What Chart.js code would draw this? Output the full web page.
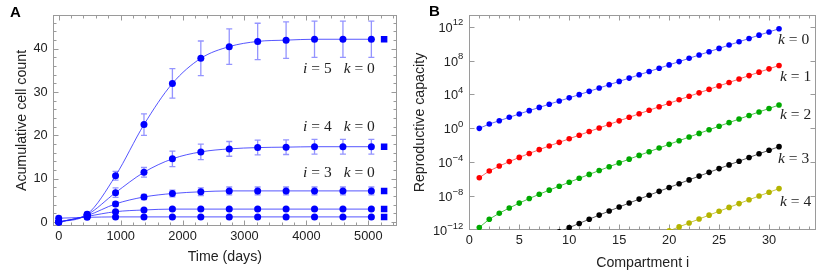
<!DOCTYPE html>
<html><head><meta charset="utf-8">
<script src="https://cdn.jsdelivr.net/npm/chart.js@4.4.1/dist/chart.umd.min.js"></script>
<style>
html,body{margin:0;padding:0;background:#fff;}
#wrap{position:relative;width:821px;height:274px;overflow:hidden;}
.panel{position:absolute;top:0;height:274px;}
#pa{left:0;width:410px;}
#pb{left:410px;width:411px;}
.tag{position:absolute;font:bold 15px "Liberation Sans",Arial,sans-serif;line-height:15px;color:#000;}
</style></head><body>
<div id="wrap">
<div class="panel" id="pa"><canvas id="ca" width="410" height="274"></canvas></div>
<div class="panel" id="pb"><canvas id="cb" width="411" height="274"></canvas></div>
<div class="tag" style="left:10px;top:4px">A</div>
<div class="tag" style="left:429px;top:3px">B</div>
</div>
<script>
// ---------- Panel A data ----------
const days = [0, 459, 918, 1377, 1836, 2295, 2754, 3213, 3672, 4131, 4590, 5049];
const countI5 = [0, 1.8, 10.7, 22.5, 32.0, 37.8, 40.5, 41.7, 42.0, 42.2, 42.2, 42.2];
const errI5   = [0, 0.5, 1.0, 2.5, 3.4, 4.0, 4.1, 4.2, 4.2, 4.2, 4.2, 4.2];
const countI4 = [0, 1.7, 6.8, 11.5, 14.6, 16.2, 16.9, 17.2, 17.3, 17.4, 17.4, 17.4];
const errI4   = [0, 0.4, 1.1, 1.1, 1.8, 1.8, 1.7, 1.7, 1.7, 1.7, 1.7, 1.7];
const countI3 = [0, 1.5, 4.2, 5.8, 6.6, 7.0, 7.2, 7.2, 7.2, 7.2, 7.2, 7.2];
const errI3   = [0, 0.3, 0.5, 0.6, 0.8, 0.9, 0.9, 0.9, 0.9, 0.9, 0.9, 0.9];
const countI2 = [0, 1.3, 2.4, 2.8, 3.0, 3.0, 3.0, 3.0, 3.0, 3.0, 3.0, 3.0];
const errI2   = [0, 0.2, 0.3, 0.3, 0.3, 0.3, 0.3, 0.3, 0.3, 0.3, 0.3, 0.3];
const countI1 = [0.9, 1.1, 1.2, 1.2, 1.2, 1.2, 1.2, 1.2, 1.2, 1.2, 1.2, 1.2];
const errI1   = [0.5, 0.2, 0.2, 0.2, 0.2, 0.2, 0.2, 0.2, 0.2, 0.2, 0.2, 0.2];
const plateauDay = [5255, 5255, 5255, 5255, 5255];
const plateauCount = [42.2, 17.4, 7.2, 3.0, 1.2];
const timeTicks = [0, 1000, 2000, 3000, 4000, 5000];
const countTicks = [0, 10, 20, 30, 40];

// ---------- Panel B data ----------
const compartments = [1,2,3,4,5,6,7,8,9,10,11,12,13,14,15,16,17,18,19,20,21,22,23,24,25,26,27,28,29,30,31];
const capK0 = [1.0, 3.2, 7.9, 20, 50, 123, 295, 710, 1.66e3, 4.0e3, 9.5e3, 2.34e4, 5.75e4, 1.41e5, 3.47e5, 8.5e5, 2.09e6, 5.13e6, 1.26e7, 3.09e7, 7.59e7, 1.86e8, 4.57e8, 1.12e9, 2.75e9, 6.76e9, 1.66e10, 4.07e10, 1.0e11, 2.4e11, 5.75e11];
const capK1 = [1.48e-6, 9.3e-6, 3.52e-5, 1.18e-4, 3.71e-4, 1.09e-3, 3.05e-3, 8.4e-3, 2.21e-2, 5.9e-2, 1.55e-1, 4.16e-1, 1.11, 2.92, 7.69, 20.1, 52.5, 136, 354, 914, 2.36e3, 6.05e3, 1.56e4, 3.98e4, 1.02e5, 2.6e5, 6.62e5, 1.69e6, 4.29e6, 1.06e7, 2.64e7];
const capK2 = [2.0e-12, 1.89e-11, 9.5e-11, 3.98e-10, 1.5e-9, 5.15e-9, 1.65e-8, 5.08e-8, 1.49e-7, 4.37e-7, 1.26e-6, 3.65e-6, 1.04e-5, 2.96e-5, 8.3e-5, 2.31e-4, 6.38e-4, 1.75e-3, 4.78e-3, 1.29e-2, 3.5e-2, 9.4e-2, 2.52e-1, 6.71e-1, 1.79, 4.73, 12.5, 33.0, 86.7, 222, 569];
const compK3 = [9,10,11,12,13,14,15,16,17,18,19,20,21,22,23,24,25,26,27,28,29,30,31];
const capK3 = [5.98e-13, 1.91e-12, 5.97e-12, 1.87e-11, 5.73e-11, 1.73e-10, 5.16e-10, 1.52e-9, 4.43e-9, 1.28e-8, 3.66e-8, 1.04e-7, 2.94e-7, 8.24e-7, 2.3e-6, 6.38e-6, 1.76e-5, 4.84e-5, 1.33e-4, 3.62e-4, 9.84e-4, 2.6e-3, 6.87e-3];
const compK4 = [20,21,22,23,24,25,26,27,28,29,30,31];
const capK4 = [7.89e-13, 2.32e-12, 6.79e-12, 1.97e-11, 5.68e-11, 1.63e-10, 4.63e-10, 1.31e-9, 3.7e-9, 1.04e-8, 2.83e-8, 7.69e-8];
const compTicks = [0, 5, 10, 15, 20, 25, 30];
const capTicks = [1e-12, 1e-8, 1e-4, 1, 1e4, 1e8, 1e12];

// ---------- helpers ----------
const SANS = '"Liberation Sans", Arial, sans-serif';
Chart.defaults.font.family = SANS;
Chart.defaults.color = '#222';
Chart.defaults.animation = false;
const TICK_PX = 12.8, TITLE_PX = 14.2;

function pts(xs, ys){ return ys.map((v,i)=>({x:xs[i], y:v})); }
function range(a,b,s){ const r=[]; for(let v=a; v<=b+1e-9; v+=s) r.push(v); return r; }

const framePlugin = {
  id: 'frameTicks',
  beforeDatasetsDraw(chart, args, o){
    const {ctx, chartArea:a, scales:{x, y}} = chart;
    ctx.save();
    chart.data.datasets.forEach((ds) => {
      if (!ds.errorBars) return;
      ctx.strokeStyle = o.errColor; ctx.lineWidth = 1.3;
      ds.data.forEach((p, j) => {
        const e = ds.errorBars[j]; if (!e) return;
        const px = x.getPixelForValue(p.x);
        const y1 = y.getPixelForValue(p.y + e), y2 = y.getPixelForValue(p.y - e);
        ctx.beginPath();
        ctx.moveTo(px, y1); ctx.lineTo(px, y2);
        ctx.moveTo(px-3, y1); ctx.lineTo(px+3, y1);
        ctx.moveTo(px-3, y2); ctx.lineTo(px+3, y2);
        ctx.stroke();
      });
    });
    ctx.strokeStyle = o.color; ctx.lineWidth = 1;
    const L = Math.round(a.left)+0.5, R = Math.round(a.right)-0.5, T = Math.round(a.top)+0.5, B = Math.round(a.bottom)-0.5;
    ctx.strokeRect(L, T, R-L, B-T);
    ctx.beginPath();
    const tickX = (vals, len) => vals.forEach(v => {
      const px = Math.round(x.getPixelForValue(v))+0.5;
      if (px < L-0.1 || px > R+0.1) return;
      ctx.moveTo(px, B); ctx.lineTo(px, B-len);
      ctx.moveTo(px, T); ctx.lineTo(px, T+len);
    });
    const tickY = (vals, len) => vals.forEach(v => {
      const py = Math.round(y.getPixelForValue(v))+0.5;
      if (py < T-0.1 || py > B+0.1) return;
      ctx.moveTo(L, py); ctx.lineTo(L+len, py);
      ctx.moveTo(R, py); ctx.lineTo(R-len, py);
    });
    tickX(o.xMajor, 5); tickX(o.xMinor, 3);
    tickY(o.yMajor, 5); tickY(o.yMinor, 3);
    ctx.stroke();
    ctx.restore();
  },
  afterDatasetsDraw(chart, args, o){
    const {ctx, chartArea:a, scales:{x, y}} = chart;
    ctx.save();
    ctx.fillStyle = '#222';
    ctx.textBaseline = 'middle';
    (o.labels || []).forEach(lb => {
      let px = x.getPixelForValue(lb.x);
      const py = y.getPixelForValue(lb.y);
      lb.parts.forEach(pt => {
        if (pt.gap) { px += pt.gap; return; }
        ctx.font = (pt.it ? 'italic ' : '') + '15.5px "Liberation Serif", "Times New Roman", serif';
        ctx.fillText(pt.t, px, py);
        px += ctx.measureText(pt.t).width;
      });
    });
    // power-of-ten tick labels
    if (o.powerLabels) {
      const right = a.left - 6;
      o.powerLabels.forEach(v => {
        const e = Math.round(Math.log10(v));
        const es = (e < 0 ? '\u2212' : '') + Math.abs(e);
        const py = y.getPixelForValue(v);
        ctx.font = '9.5px ' + SANS;
        const wE = ctx.measureText(es).width;
        ctx.textAlign = 'left'; ctx.textBaseline = 'alphabetic';
        ctx.fillText(es, right - wE, py - 1.5);
        ctx.font = TICK_PX + 'px ' + SANS;
        ctx.textAlign = 'right'; ctx.textBaseline = 'middle';
        ctx.fillText('10', right - wE, py + 1.5);
      });
    }
    ctx.restore();
  }
};

function ikLabel(i, k){
  return [{t:'i', it:true}, {t:' = '+i}, {gap:12}, {t:'k', it:true}, {t:' = '+k}];
}
function kLabel(k){ return [{t:'k', it:true}, {t:' = '+k}]; }

// ---------- Chart A ----------
const blueLine = 'rgba(30,30,255,0.75)';
const seriesA = [[countI5, errI5], [countI4, errI4], [countI3, errI3], [countI2, errI2], [countI1, errI1]];
const dsA = seriesA.map(([c, e]) => ({
  type: 'line', data: pts(days, c), errorBars: e,
  borderColor: blueLine, borderWidth: 1, cubicInterpolationMode: 'monotone',
  pointRadius: 3.5, pointBackgroundColor: '#0000ff', pointBorderWidth: 0, clip: false
}));
dsA.push({
  type: 'scatter', data: pts(plateauDay, plateauCount), pointStyle: 'rect',
  pointRadius: 4.6, pointBackgroundColor: '#0000ff', pointBorderWidth: 0, showLine: false
});

new Chart(document.getElementById('ca'), {
  type: 'line',
  data: { datasets: dsA },
  options: {
    responsive: false, devicePixelRatio: 1,
    layout: { padding: { left: 0, right: 13, top: 15, bottom: 0 } },
    plugins: {
      legend: { display: false }, tooltip: { enabled: false },
      frameTicks: {
        color: '#9a9a9a', errColor: 'rgba(60,60,255,0.55)',
        xMajor: timeTicks, xMinor: range(200, 5400, 200),
        yMajor: countTicks, yMinor: range(2, 46, 2),
        labels: [
          { x: 3947, y: 35.3, parts: ikLabel(5, 0) },
          { x: 3947, y: 21.9, parts: ikLabel(4, 0) },
          { x: 3947, y: 11.3, parts: ikLabel(3, 0) }
        ]
      }
    },
    scales: {
      x: {
        type: 'linear', min: -97, max: 5463,
        afterBuildTicks: s => { s.ticks = timeTicks.map(v => ({ value: v })); },
        afterFit: s => { s.height = 48; },
        grid: { display: false, drawTicks: false }, border: { display: false },
        ticks: { padding: 3, font: { size: TICK_PX }, color: '#222', callback: v => String(v) },
        title: { display: true, text: 'Time (days)', font: { size: TITLE_PX }, color: '#222', padding: { top: 0, bottom: 8 } }
      },
      y: {
        type: 'linear', min: -0.9, max: 47.8,
        afterBuildTicks: s => { s.ticks = countTicks.map(v => ({ value: v })); },
        afterFit: s => { s.width = 52.7; },
        grid: { display: false, drawTicks: false }, border: { display: false },
        ticks: { padding: 5, font: { size: TICK_PX }, color: '#222', callback: v => String(v) },
        title: { display: true, text: 'Acumulative cell count', font: { size: TITLE_PX }, color: '#222', padding: { top: 14, bottom: 0 } }
      }
    }
  },
  plugins: [framePlugin]
});

// ---------- Chart B ----------
function dsB(xs, ys, pc, lc){
  return { data: pts(xs, ys), borderColor: lc, borderWidth: 1, pointRadius: 2.8,
           pointBackgroundColor: pc, pointBorderWidth: 0, tension: 0 };
}
new Chart(document.getElementById('cb'), {
  type: 'line',
  data: { datasets: [
    dsB(compartments, capK0, '#0000ff', 'rgba(40,40,255,0.7)'),
    dsB(compartments, capK1, '#ff0000', 'rgba(255,40,40,0.7)'),
    dsB(compartments, capK2, '#00aa00', 'rgba(0,170,0,0.7)'),
    dsB(compK3, capK3, '#000000', 'rgba(40,40,40,0.75)'),
    dsB(compK4, capK4, '#b4b400', 'rgba(180,180,0,0.75)')
  ] },
  options: {
    responsive: false, devicePixelRatio: 1,
    layout: { padding: { left: 0, right: 5, top: 15, bottom: 0 } },
    plugins: {
      legend: { display: false }, tooltip: { enabled: false },
      frameTicks: {
        color: '#9a9a9a', errColor: '#000',
        xMajor: compTicks, xMinor: range(1, 34, 1),
        yMajor: capTicks, yMinor: [],
        powerLabels: capTicks,
        labels: [
          { x: 30.9, y: 2.9e10, parts: kLabel(0) },
          { x: 31.1, y: 1.26e6, parts: kLabel(1) },
          { x: 31.1, y: 40, parts: kLabel(2) },
          { x: 30.9, y: 2.7e-4, parts: kLabel(3) },
          { x: 31.1, y: 2.3e-9, parts: kLabel(4) }
        ]
      }
    },
    scales: {
      x: {
        type: 'linear', min: 0, max: 34.7,
        afterBuildTicks: s => { s.ticks = compTicks.map(v => ({ value: v })); },
        afterFit: s => { s.height = 44; },
        grid: { display: false, drawTicks: false }, border: { display: false },
        ticks: { padding: 3, font: { size: TICK_PX }, color: '#222', callback: v => String(v) },
        title: { display: true, text: 'Compartment i', font: { size: TITLE_PX }, color: '#222', padding: { top: 0, bottom: 2 } }
      },
      y: {
        type: 'logarithmic', min: 1e-12, max: 2.4e13,
        afterBuildTicks: s => { s.ticks = capTicks.map(v => ({ value: v })); },
        afterFit: s => { s.width = 59.3; },
        grid: { display: false, drawTicks: false }, border: { display: false },
        ticks: { display: false },
        title: { display: true, text: 'Reproductive capacity', font: { size: TITLE_PX }, color: '#222', padding: { top: 2, bottom: 0 } }
      }
    }
  },
  plugins: [framePlugin]
});
</script>
</body></html>
